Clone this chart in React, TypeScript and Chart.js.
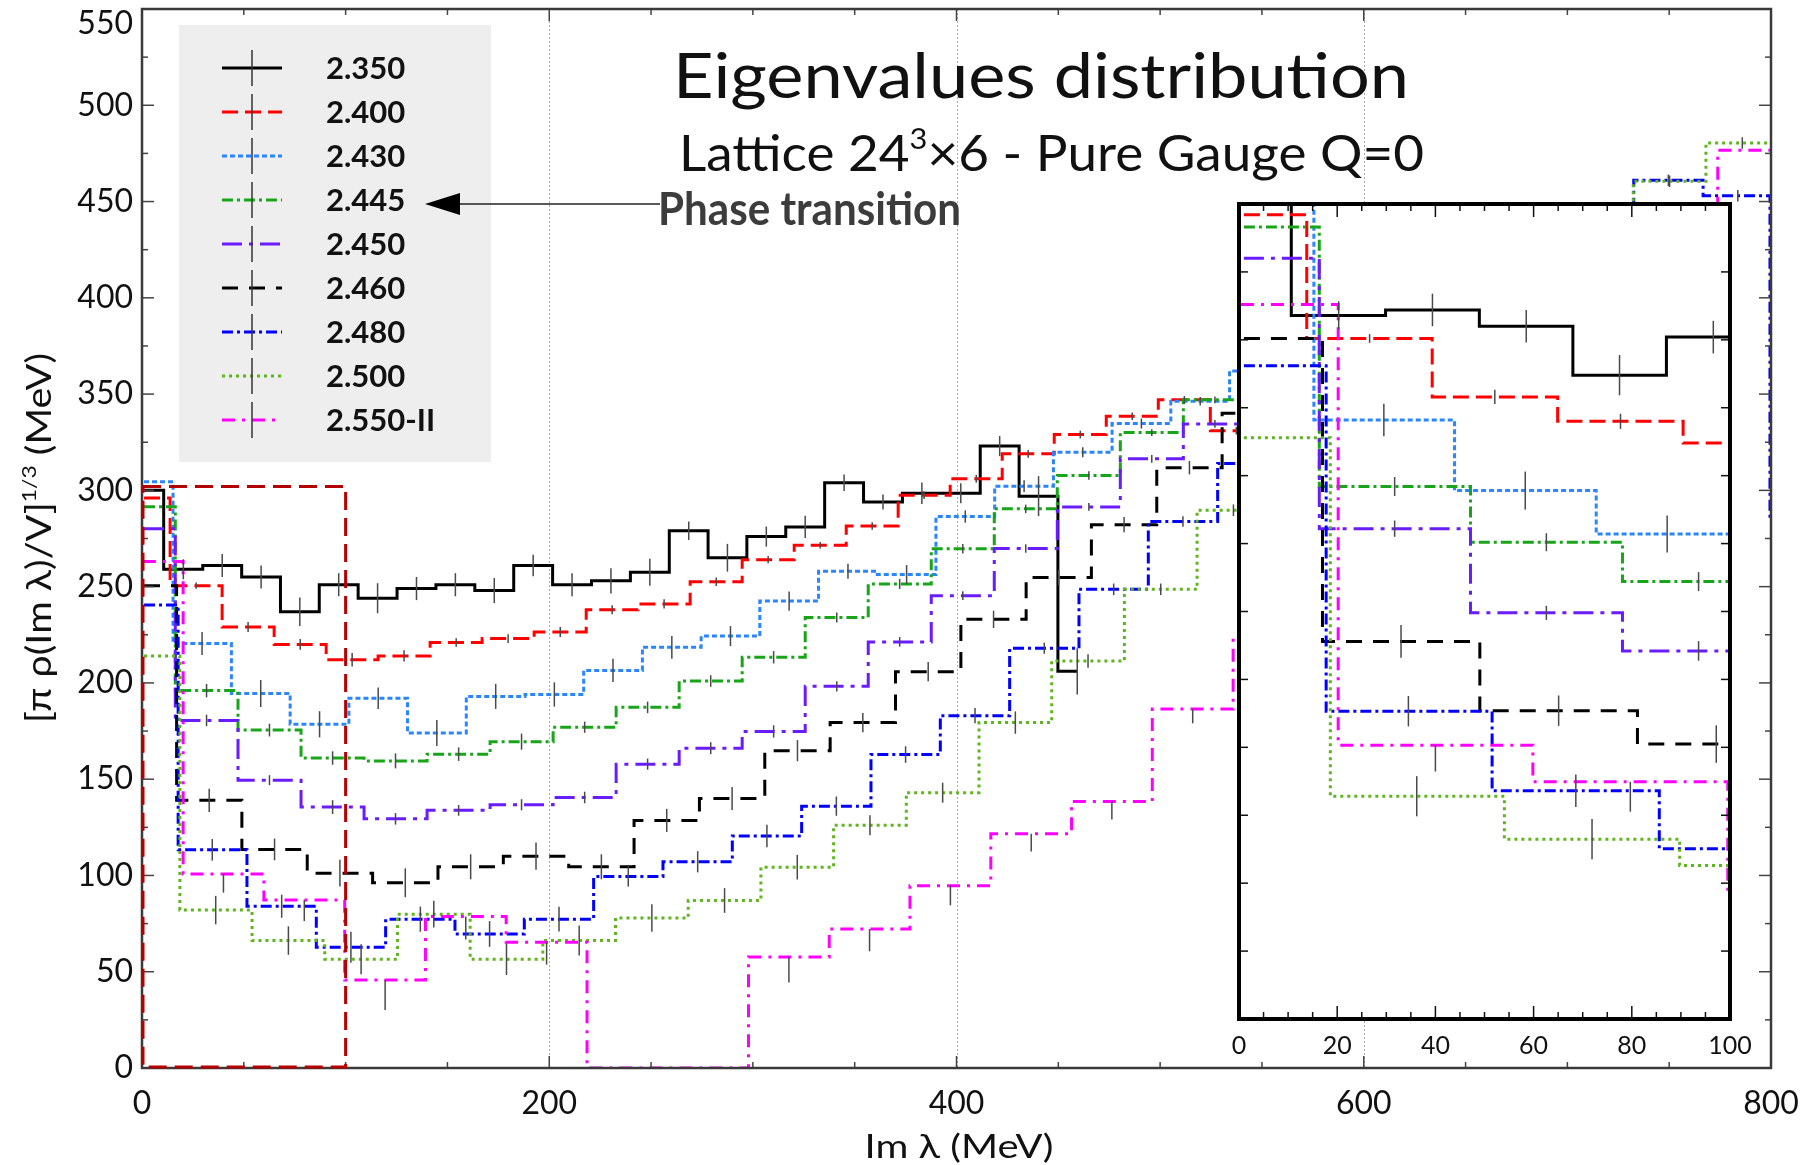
import React, { useEffect, useRef } from "react";
import { Chart, registerables } from "chart.js";

Chart.register(...registerables);

// ---------------- data ----------------
const LABELS = ["2.350", "2.400", "2.430", "2.445", "2.450", "2.460", "2.480", "2.500", "2.550-II"];

// bin centres (MeV), bin heights, statistical errors
const X_2350 = [1, 20.3, 39.4, 58.5, 77.5, 96.6, 115.7, 134.8, 153.9, 173.0, 192.1, 211.2, 230.3, 249.4, 268.5, 287.5, 306.6, 325.7, 344.8, 363.9, 383.0, 402.1, 421.2, 440.3, 459.3];
const Y_2350 = [300, 259, 261, 255, 237, 251, 244, 249, 251, 248, 261, 251, 253, 257.5, 279, 265, 276, 281, 304, 294, 298.5, 298.5, 323, 297, 206];
const E_2350 = [0, 5.2, 6, 6, 7.4, 6, 7.8, 6, 6, 6.5, 5.6, 6, 6.5, 7, 4.8, 7.2, 5.2, 5.8, 4.3, 3.9, 5.6, 5.2, 5.2, 10.4, 12];

const X_2400 = [1, 26.6, 52.1, 77.7, 103.2, 128.7, 154.3, 179.8, 205.4, 230.9, 256.4, 282.0, 307.5, 333.1, 358.6, 384.1, 409.7, 435.2, 460.8, 486.3, 511.9, 537.4, 562.9];
const Y_2400 = [296, 250.5, 229, 220, 212, 214, 221, 223, 226.5, 238, 241, 252.5, 264, 271.5, 281.5, 297.5, 306, 319, 329, 338.5, 347, 331, 331];
const E_2400 = [0, 1.6, 2.6, 2.8, 3.5, 2.9, 2.2, 2.3, 2.6, 2.3, 2.4, 2.2, 1.9, 1.7, 1.9, 2, 2, 2, 2, 2, 2, 2, 0];

const X_2430 = [1, 29.5, 58.3, 87.2, 116.0, 144.8, 173.7, 202.5, 231.3, 260.2, 289.0, 317.8, 346.7, 375.5, 404.3, 433.2, 462.0, 490.8, 519.7, 548.5];
const Y_2430 = [304.5, 220.5, 194.5, 178.5, 192, 174, 193, 194, 206.5, 218.5, 224.3, 242.5, 258, 256.3, 286.4, 302.2, 319.8, 334.7, 346.3, 362];
const E_2430 = [0, 6, 7, 6.8, 5.6, 6.8, 6.5, 6.3, 6, 5.9, 5.2, 5, 3.9, 4.9, 3.2, 3, 2.6, 2.6, 2.2, 0];

const X_2445 = [1, 31.7, 62.6, 93.6, 124.5, 155.5, 186.4, 217.4, 248.3, 279.3, 310.2, 341.2, 372.1, 403.1, 434.0, 465.0, 495.9, 526.9, 557.8];
const Y_2445 = [291.5, 196, 175.5, 161, 159.5, 163, 169.5, 177, 187.3, 201, 213.3, 234, 251.4, 269.7, 290.4, 307.7, 330, 347, 347];
const E_2445 = [0, 3.5, 3.3, 3.5, 3.9, 3.5, 4.2, 2.9, 3, 3, 3.2, 2.6, 2.6, 2.5, 2.2, 2.2, 1.8, 1.8, 0];

const X_2450 = [1, 31.7, 62.6, 93.6, 124.5, 155.5, 186.4, 217.4, 248.3, 279.3, 310.2, 341.2, 372.1, 403.1, 434.0, 465.0, 495.9, 526.9, 557.8];
const Y_2450 = [280, 180.5, 149.5, 135.5, 129.4, 133.8, 136.7, 140.5, 157.8, 166.1, 174.8, 198.2, 221.3, 245.3, 269.8, 291.4, 316.4, 334.5, 334.5];
const E_2450 = [0, 3, 2.6, 3.6, 3, 2.8, 2.9, 3, 2.9, 3.1, 3.2, 2.7, 2.5, 2.3, 2.2, 2, 2, 2, 0];

const X_2460 = [1, 33.0, 65.1, 97.2, 129.3, 161.4, 193.5, 225.6, 257.7, 289.8, 321.9, 354.0, 386.1, 418.2, 450.2, 482.3, 514.4, 546.5];
const Y_2460 = [250.5, 139, 113.5, 101.2, 96.2, 104.5, 110, 104.5, 128.6, 140, 164.8, 179.4, 205.8, 233, 254.7, 282.2, 311.8, 340];
const E_2460 = [0, 6, 5.6, 6.9, 7.5, 6.5, 7.1, 6.5, 6, 6, 5.5, 5, 5, 4.5, 4, 4, 3.5, 0];

const X_2480 = [1, 34.5, 68.6, 102.6, 136.7, 170.7, 204.8, 238.8, 272.9, 306.9, 341.0, 375.0, 409.1, 443.1, 477.2, 511.2, 545.3, 579.4, 613.4, 647.5, 681.5, 715.6, 749.6, 783.7, 815.3];
const Y_2480 = [240.5, 113.3, 84, 62.7, 77.3, 69.6, 77.3, 99.4, 107.1, 120.5, 136, 162.8, 183, 218, 248.6, 283.8, 314, null, null, null, null, 430, 461, 453, 285];
const E_2480 = [0, 5.6, 6, 8, 6.5, 6.7, 6.4, 5.2, 5.5, 5.8, 5, 4.3, 4, 2.9, 3, 2.7, 0, 0, 0, 0, 0, 0, 3, 3, 0];

const X_2500 = [1, 36.2, 71.9, 107.6, 143.3, 179.0, 214.7, 250.4, 286.1, 321.8, 357.5, 393.2, 428.9, 464.6, 500.3, 536.0, 571.7, 607.4, 643.1, 678.8, 714.5, 750.2, 785.9, 821.6];
const Y_2500 = [214, 82, 66.2, 56.5, 79.9, 56.5, 66.2, 77.9, 87, 104.3, 126.1, 143, 179.4, 211.4, 248.6, 289.7, 330, null, null, null, 440, 460.5, 480.4, 480.4];
const E_2500 = [0, 7.4, 7.4, 7.8, 6.9, 8.2, 7.8, 7.2, 6.4, 6.4, 5.2, 5.2, 5.8, 3.5, 3, 3, 0, 0, 0, 0, 0, 3, 3, 0];

const X_2550 = [0.4, 40.0, 79.7, 119.4, 159.0, 198.7, 238.4, 278.0, 317.7, 357.3, 397.0, 436.7, 476.3, 516.0, 555.7, 595.3, 635.0, 674.7, 714.3, 754.0, 793.7, 833.3];
const Y_2550 = [263, 100.8, 87.3, 45.7, 78.7, 65.3, 0, 0, 57.6, 72.2, 94.7, 121.7, 138.4, 186.4, 224, null, null, null, null, 420, 476.6, 476.6];
const E_2550 = [0, 9.7, 11, 15.6, 12, 11.6, 0, 0, 13.2, 11.6, 10.2, 9.3, 9.3, 7.4, 0, 0, 0, 0, 0, 0, 0, 0];

const X_TICKS = [0, 200, 400, 600, 800];
const Y_TICKS = [0, 50, 100, 150, 200, 250, 300, 350, 400, 450, 500, 550];
const GRID_X = [200, 400, 600];
const INSET_X_TICKS = [0, 20, 40, 60, 80, 100];
const ZOOM_RECT_X = [0, 100];
const ZOOM_RECT_Y = [0, 302];

const SERIES = [
  { xs: X_2350, ys: Y_2350, errs: E_2350 },
  { xs: X_2400, ys: Y_2400, errs: E_2400 },
  { xs: X_2430, ys: Y_2430, errs: E_2430 },
  { xs: X_2445, ys: Y_2445, errs: E_2445 },
  { xs: X_2450, ys: Y_2450, errs: E_2450 },
  { xs: X_2460, ys: Y_2460, errs: E_2460 },
  { xs: X_2480, ys: Y_2480, errs: E_2480 },
  { xs: X_2500, ys: Y_2500, errs: E_2500 },
  { xs: X_2550, ys: Y_2550, errs: E_2550 },
];

// ---------------- styles ----------------
const STYLES = [
  { color: "#000000", dash: [], width: 3, lowerOnly: false },
  { color: "#ff0000", dash: [16, 7], width: 3, lowerOnly: false },
  { color: "#2a85ff", dash: [5, 3], width: 3, lowerOnly: false },
  { color: "#19a519", dash: [11, 4, 3, 4], width: 3, lowerOnly: false },
  { color: "#6a1cff", dash: [20, 7, 4, 7], width: 3, lowerOnly: false },
  { color: "#000000", dash: [16, 11], width: 3, lowerOnly: false },
  { color: "#0000ff", dash: [11, 4, 3, 4], width: 3, lowerOnly: false },
  { color: "#5fb51e", dash: [3, 4], width: 3, lowerOnly: false },
  { color: "#ff00ff", dash: [13, 7, 3, 7], width: 3, lowerOnly: true },
];

const FONT = "Lato, 'Open Sans', 'DejaVu Sans', sans-serif";
const W = 1811;
const H = 1165;
const INSET_CANVAS = { left: 1227, top: 192, width: 525, height: 883 };

function makeDatasets() {
  return SERIES.map((s, i) => ({
    label: LABELS[i],
    data: s.xs.map((x, k) => ({ x, y: s.ys[k] })),
    borderColor: STYLES[i].color,
    borderDash: STYLES[i].dash,
    borderWidth: STYLES[i].width,
    stepped: "middle" as const,
    pointRadius: 0,
    pointHoverRadius: 0,
    fill: false,
    spanGaps: false,
    tension: 0,
    order: SERIES.length - i,
  }));
}

function line(ctx: CanvasRenderingContext2D, x1: number, y1: number, x2: number, y2: number) {
  ctx.beginPath();
  ctx.moveTo(x1, y1);
  ctx.lineTo(x2, y2);
  ctx.stroke();
}

type Part = { t: string; sup?: boolean };
function drawRich(
  ctx: CanvasRenderingContext2D,
  parts: Part[],
  x: number,
  y: number,
  size: number,
  weight: string,
  targetW: number,
  align: "left" | "center",
  color: string
) {
  const supSize = size * 0.58;
  const widths: number[] = [];
  let total = 0;
  ctx.save();
  ctx.textAlign = "left";
  ctx.textBaseline = "alphabetic";
  parts.forEach((p) => {
    ctx.font = `${weight} ${p.sup ? supSize : size}px ${FONT}`;
    const w = ctx.measureText(p.t).width;
    widths.push(w);
    total += w;
  });
  const sx = targetW > 0 ? targetW / total : 1;
  ctx.translate(x, y);
  ctx.scale(sx, 1);
  ctx.fillStyle = color;
  let cx = align === "center" ? -total / 2 : 0;
  parts.forEach((p, i) => {
    ctx.font = `${weight} ${p.sup ? supSize : size}px ${FONT}`;
    ctx.fillText(p.t, cx, p.sup ? -size * 0.45 : 0);
    cx += widths[i];
  });
  ctx.restore();
}

function drawErrorBars(chart: any) {
  const { ctx, chartArea: a } = chart;
  const xs = chart.scales.x;
  const ys = chart.scales.y;
  ctx.save();
  ctx.beginPath();
  ctx.rect(a.left, a.top, a.right - a.left, a.bottom - a.top);
  ctx.clip();
  ctx.strokeStyle = "#4a4a4a";
  ctx.lineWidth = 1.5;
  ctx.setLineDash([]);
  SERIES.forEach((s, i) => {
    s.xs.forEach((xv, k) => {
      const yv = s.ys[k];
      const e = s.errs[k];
      if (yv === null || yv === undefined || !e) return;
      const px = xs.getPixelForValue(xv);
      const top = STYLES[i].lowerOnly ? ys.getPixelForValue(yv) : ys.getPixelForValue(yv + e);
      const bot = ys.getPixelForValue(yv - e);
      line(ctx, px, top, px, bot);
    });
  });
  ctx.restore();
}

const mainDecor = {
  id: "mainDecor",
  beforeDraw(chart: any) {
    const ctx = chart.ctx;
    ctx.save();
    ctx.fillStyle = "#ffffff";
    ctx.fillRect(0, 0, chart.width, chart.height);
    ctx.restore();
  },
  beforeDatasetsDraw(chart: any) {
    const { ctx, chartArea: a } = chart;
    const xs = chart.scales.x;
    ctx.save();
    ctx.strokeStyle = "#a8a8a8";
    ctx.lineWidth = 1;
    ctx.setLineDash([2, 2]);
    GRID_X.forEach((v) => {
      const px = Math.round(xs.getPixelForValue(v)) + 0.5;
      line(ctx, px, a.top, px, a.bottom);
    });
    ctx.restore();
  },
  afterDatasetsDraw(chart: any) {
    const { ctx, chartArea: a } = chart;
    const xs = chart.scales.x;
    const ys = chart.scales.y;
    drawErrorBars(chart);

    ctx.save();
    ctx.setLineDash([]);
    // ticks (inward)
    ctx.strokeStyle = "#444";
    ctx.lineWidth = 1.5;
    for (let v = 0; v <= 550; v += 25) {
      const py = ys.getPixelForValue(v);
      const len = v % 50 === 0 ? 12 : 6;
      line(ctx, a.left, py, a.left + len, py);
      line(ctx, a.right, py, a.right - len, py);
    }
    for (let v = 0; v <= 800; v += 50) {
      const px = xs.getPixelForValue(v);
      const len = v % 200 === 0 ? 12 : 6;
      line(ctx, px, a.bottom, px, a.bottom - len);
      line(ctx, px, a.top, px, a.top + len);
    }
    // frame
    ctx.strokeStyle = "#3a3a3a";
    ctx.lineWidth = 2.5;
    ctx.strokeRect(a.left, a.top, a.right - a.left, a.bottom - a.top);

    // zoom rectangle
    const rx0 = xs.getPixelForValue(ZOOM_RECT_X[0]);
    const rx1 = xs.getPixelForValue(ZOOM_RECT_X[1]);
    const ry0 = ys.getPixelForValue(ZOOM_RECT_Y[0]);
    const ry1 = ys.getPixelForValue(ZOOM_RECT_Y[1]);
    ctx.strokeStyle = "#b30000";
    ctx.lineWidth = 3;
    ctx.setLineDash([18, 8]);
    ctx.strokeRect(rx0 + 1, ry1, rx1 - rx0 - 1, ry0 - ry1 - 1);
    ctx.setLineDash([]);

    // tick labels
    ctx.fillStyle = "#111";
    ctx.font = `32px ${FONT}`;
    ctx.textAlign = "right";
    ctx.textBaseline = "middle";
    Y_TICKS.forEach((v) => {
      ctx.fillText(String(v), a.left - 9, Math.max(ys.getPixelForValue(v), 24));
    });
    ctx.textAlign = "center";
    X_TICKS.forEach((v) => {
      ctx.fillText(String(v), xs.getPixelForValue(v), 1104);
    });
    ctx.restore();

    // axis titles
    drawRich(ctx, [{ t: "Im λ (MeV)" }], 959, 1158, 33, "400", 189, "center", "#111");
    ctx.save();
    ctx.translate(40, 538);
    ctx.rotate(-Math.PI / 2);
    drawRich(
      ctx,
      [{ t: "[π ρ(Im λ)/V]" }, { t: "1/3", sup: true }, { t: " (MeV)" }],
      0,
      11,
      34,
      "400",
      370,
      "center",
      "#111"
    );
    ctx.restore();

    // titles
    drawRich(ctx, [{ t: "Eigenvalues distribution" }], 673, 98, 62, "400", 736, "left", "#111");
    drawRich(
      ctx,
      [{ t: "Lattice 24" }, { t: "3", sup: true }, { t: "×6 - Pure Gauge Q=0" }],
      679,
      171,
      50,
      "400",
      745,
      "left",
      "#111"
    );

    // legend
    ctx.save();
    ctx.fillStyle = "#eeeeee";
    ctx.fillRect(179, 25, 312, 437);
    LABELS.forEach((lab, i) => {
      const yy = 68 + i * 44;
      const st = STYLES[i];
      ctx.strokeStyle = st.color;
      ctx.lineWidth = st.width;
      ctx.setLineDash(st.dash);
      line(ctx, 222, yy, 282, yy);
      ctx.setLineDash([]);
      ctx.strokeStyle = "#333";
      ctx.lineWidth = 1.5;
      line(ctx, 252, yy - 18, 252, yy + 18);
      ctx.fillStyle = "#111";
      ctx.font = `bold 31px ${FONT}`;
      ctx.textAlign = "left";
      ctx.textBaseline = "middle";
      ctx.fillText(lab, 326, yy + 1);
    });
    ctx.restore();

    // annotation arrow + text
    ctx.save();
    ctx.strokeStyle = "#222";
    ctx.lineWidth = 1.5;
    line(ctx, 455, 204, 660, 204);
    ctx.fillStyle = "#000";
    ctx.beginPath();
    ctx.moveTo(425, 204);
    ctx.lineTo(460, 193);
    ctx.lineTo(460, 215);
    ctx.closePath();
    ctx.fill();
    ctx.restore();
    drawRich(ctx, [{ t: "Phase transition" }], 658, 225, 45, "bold", 303, "left", "#3c3c3c");
  },
};

const insetDecor = {
  id: "insetDecor",
  beforeDatasetsDraw(chart: any) {
    const { ctx, chartArea: a } = chart;
    ctx.save();
    ctx.fillStyle = "#ffffff";
    ctx.fillRect(a.left, a.top, a.right - a.left, a.bottom - a.top);
    ctx.restore();
  },
  afterDatasetsDraw(chart: any) {
    const { ctx, chartArea: a } = chart;
    const xs = chart.scales.x;
    const ys = chart.scales.y;
    drawErrorBars(chart);
    ctx.save();
    ctx.setLineDash([]);
    ctx.strokeStyle = "#111";
    ctx.lineWidth = 1.5;
    for (let v = 0; v <= 100; v += 5) {
      const px = xs.getPixelForValue(v);
      const len = v % 20 === 0 ? 13 : 7;
      line(ctx, px, a.bottom, px, a.bottom - len);
      line(ctx, px, a.top, px, a.top + len);
    }
    for (let v = 0; v <= 300; v += 25) {
      const py = ys.getPixelForValue(v);
      line(ctx, a.left, py, a.left + 9, py);
      line(ctx, a.right, py, a.right - 9, py);
    }
    ctx.strokeStyle = "#000";
    ctx.lineWidth = 4;
    ctx.strokeRect(a.left, a.top, a.right - a.left, a.bottom - a.top);
    ctx.fillStyle = "#111";
    ctx.font = `25px ${FONT}`;
    ctx.textAlign = "center";
    ctx.textBaseline = "middle";
    INSET_X_TICKS.forEach((v) => {
      ctx.fillText(String(v), xs.getPixelForValue(v), a.bottom + 27);
    });
    ctx.restore();
  },
};

export default function App() {
  const mainRef = useRef<HTMLCanvasElement>(null);
  const insetRef = useRef<HTMLCanvasElement>(null);

  useEffect(() => {
    if (!mainRef.current || !insetRef.current) return;
    const main = new Chart(mainRef.current, {
      type: "line",
      data: { datasets: makeDatasets() as any },
      options: {
        animation: false,
        responsive: false,
        devicePixelRatio: 1,
        layout: { padding: { left: 142, top: 9, right: 40, bottom: 97 } },
        plugins: { legend: { display: false }, tooltip: { enabled: false } },
        events: [],
        scales: {
          x: { type: "linear", min: 0, max: 800, display: false },
          y: { type: "linear", min: 0, max: 550, display: false },
        },
      },
      plugins: [mainDecor],
    } as any);

    const inset = new Chart(insetRef.current, {
      type: "line",
      data: { datasets: makeDatasets() as any },
      options: {
        animation: false,
        responsive: false,
        devicePixelRatio: 1,
        layout: { padding: { left: 12, top: 12, right: 22, bottom: 56 } },
        plugins: { legend: { display: false }, tooltip: { enabled: false } },
        events: [],
        scales: {
          x: { type: "linear", min: 0, max: 100, display: false },
          y: { type: "linear", min: 0, max: 300, display: false },
        },
      },
      plugins: [insetDecor],
    } as any);

    return () => {
      main.destroy();
      inset.destroy();
    };
  }, []);

  return (
    <div style={{ position: "absolute", left: 0, top: 0, width: W, height: H, background: "#fff", overflow: "hidden" }}>
      <canvas ref={mainRef} width={W} height={H} style={{ position: "absolute", left: 0, top: 0 }} />
      <canvas
        ref={insetRef}
        width={INSET_CANVAS.width}
        height={INSET_CANVAS.height}
        style={{ position: "absolute", left: INSET_CANVAS.left, top: INSET_CANVAS.top }}
      />
    </div>
  );
}
